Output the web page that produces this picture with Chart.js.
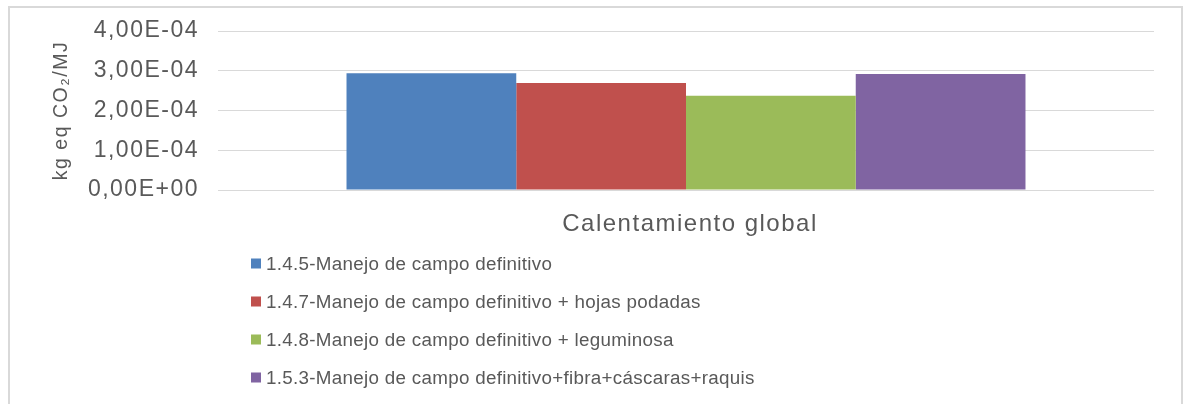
<!DOCTYPE html>
<html>
<head>
<meta charset="utf-8">
<script src="https://cdn.jsdelivr.net/npm/chart.js@4.4.1/dist/chart.umd.min.js"></script>
<style>
  body { margin: 0; background: #fff; overflow: hidden; }
  #box {
    position: absolute; left: 8px; top: 6px;
    width: 1171px; height: 412px;
    border: 2px solid #d9d9d9; background: #fff;
  }
</style>
</head>
<body>
<div id="box"><canvas id="chart" width="1171" height="410"></canvas></div>
<script>
// data
const categories = ['Calentamiento global'];
const seriesNames = [
  '1.4.5-Manejo de campo definitivo',
  '1.4.7-Manejo de campo definitivo + hojas podadas',
  '1.4.8-Manejo de campo definitivo + leguminosa',
  '1.5.3-Manejo de campo definitivo+fibra+cáscaras+raquis'
];
const seriesValues = [
  [2.94e-4],
  [2.69e-4],
  [2.37e-4],
  [2.92e-4]
];
const seriesColors = ['#4f81bd', '#c0504d', '#9bbb59', '#8064a2'];
const yTicks = [0, 1e-4, 2e-4, 3e-4, 4e-4];
const yTitle = 'kg eq CO\u2082/MJ';

const textColor = '#595959';
const fontFamily = '"Liberation Sans", Arial, sans-serif';

// "4,00E-04" style labels
function sciLabel(v) {
  const parts = Number(v).toExponential(2).split('e');
  const mant = parts[0].replace('.', ',');
  let exp = parseInt(parts[1], 10);
  const sign = exp < 0 ? '-' : '+';
  exp = Math.abs(exp);
  return mant + 'E' + sign + (exp < 10 ? '0' + exp : exp);
}

// the picture's text is a bit spaced out
const spacingPlugin = {
  id: 'spacing',
  beforeUpdate(chart) { chart.ctx.letterSpacing = '1.5px'; },
  beforeDraw(chart) { chart.ctx.letterSpacing = '1.5px'; }
};

// one legend entry per row, under the axis
const listLegend = {
  id: 'listLegend',
  afterDraw(chart) {
    const ctx = chart.ctx;
    const x0 = chart.chartArea.left + 33;
    let y = chart.scales.x.bottom + 23.5;
    ctx.save();
    ctx.letterSpacing = '0.3px';
    ctx.font = '18.8px ' + fontFamily;
    ctx.textBaseline = 'middle';
    ctx.textAlign = 'left';
    chart.data.datasets.forEach(function (ds) {
      ctx.fillStyle = ds.backgroundColor;
      ctx.fillRect(x0, y - 5, 10, 10);
      ctx.fillStyle = textColor;
      ctx.fillText(ds.label, x0 + 15, y + 1);
      y += 38;
    });
    ctx.restore();
  }
};

new Chart(document.getElementById('chart'), {
  type: 'bar',
  data: {
    labels: categories,
    datasets: seriesNames.map(function (name, i) {
      return {
        label: name,
        data: seriesValues[i],
        backgroundColor: seriesColors[i],
        borderWidth: 0,
        barPercentage: 1,
        categoryPercentage: 0.7254
      };
    })
  },
  options: {
    responsive: false,
    animation: false,
    layout: { padding: { left: 40, right: 27, top: 23, bottom: 178 } },
    plugins: {
      legend: { display: false },
      tooltip: { enabled: false }
    },
    scales: {
      x: {
        grid: { display: false },
        border: { display: false },
        ticks: {
          color: textColor,
          font: { family: fontFamily, size: 24 },
          padding: 12,
          labelOffset: 4
        },
        afterFit(s) { s.height = 50; }
      },
      y: {
        min: 0,
        max: 4e-4,
        afterBuildTicks(s) { s.ticks = yTicks.map(function (v) { return { value: v }; }); },
        grid: { color: '#d9d9d9', lineWidth: 1, drawTicks: false },
        border: { display: false },
        ticks: {
          color: textColor,
          font: { family: fontFamily, size: 23 },
          padding: 19,
          callback: function (v) { return sciLabel(v); }
        },
        title: {
          display: true,
          text: yTitle,
          color: textColor,
          font: { family: fontFamily, size: 19.5 },
          padding: { top: 0, bottom: 0 }
        },
        afterFit(s) {
          s.width = 168;
          s.paddingTop = 0;
          s.paddingBottom = 0;
        }
      }
    }
  },
  plugins: [spacingPlugin, listLegend]
});
</script>
</body>
</html>
